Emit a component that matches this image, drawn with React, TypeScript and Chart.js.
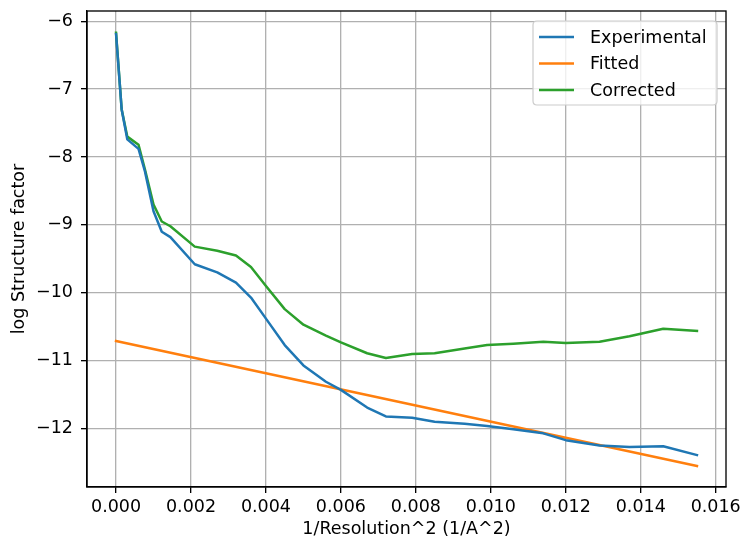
import React, { useEffect, useRef } from "react";
import { Chart, registerables } from "chart.js";

Chart.register(...registerables);

const xValues = [
  0, 0.00015, 0.0003, 0.0006, 0.00077, 0.001, 0.00122, 0.00145, 0.0021, 0.0027,
  0.0032, 0.0036, 0.004, 0.0045, 0.005, 0.0056, 0.006, 0.0067, 0.0072, 0.0079,
  0.0085, 0.0093, 0.0099, 0.0106, 0.0114, 0.012, 0.0129, 0.0137, 0.0146, 0.0155,
];
const experimental = [
  -6.19, -7.3, -7.74, -7.88, -8.21, -8.8, -9.1, -9.18, -9.58, -9.7,
  -9.85, -10.07, -10.38, -10.77, -11.07, -11.31, -11.43, -11.69, -11.82, -11.84,
  -11.9, -11.93, -11.96, -12.01, -12.07, -12.17, -12.25, -12.27, -12.26, -12.39,
];
const corrected = [
  -6.17, -7.3, -7.7, -7.82, -8.18, -8.7, -8.95, -9.02, -9.32, -9.38,
  -9.45, -9.62, -9.9, -10.24, -10.47, -10.63, -10.73, -10.89, -10.96, -10.9,
  -10.89, -10.82, -10.77, -10.75, -10.72, -10.74, -10.72, -10.64, -10.53, -10.56,
];
const fittedX = [0, 0.0155];
const fittedY = [-10.71, -12.55];

const xTicks = [0, 0.002, 0.004, 0.006, 0.008, 0.01, 0.012, 0.014, 0.016];
const yTicks = [-12, -11, -10, -9, -8, -7, -6];

const seriesNames = ["Experimental", "Fitted", "Corrected"];
const seriesColors = ["#1f77b4", "#ff7f0e", "#2ca02c"];

const FONT = "'DejaVu Sans', sans-serif";
const FS = 17.5;

const frameAndLegend = {
  id: "frameAndLegend",
  afterDraw(chart: any) {
    const ctx = chart.ctx;
    const ca = chart.chartArea;
    ctx.save();
    ctx.strokeStyle = "#000";
    ctx.lineWidth = 1.33;
    ctx.strokeRect(ca.left, ca.top, ca.right - ca.left, ca.bottom - ca.top);

    const w = 184;
    const h = 84;
    const bx = ca.right - 9 - w;
    const by = ca.top + 10;
    const r = 4;
    ctx.beginPath();
    ctx.moveTo(bx + r, by);
    ctx.lineTo(bx + w - r, by);
    ctx.quadraticCurveTo(bx + w, by, bx + w, by + r);
    ctx.lineTo(bx + w, by + h - r);
    ctx.quadraticCurveTo(bx + w, by + h, bx + w - r, by + h);
    ctx.lineTo(bx + r, by + h);
    ctx.quadraticCurveTo(bx, by + h, bx, by + h - r);
    ctx.lineTo(bx, by + r);
    ctx.quadraticCurveTo(bx, by, bx + r, by);
    ctx.closePath();
    ctx.fillStyle = "rgba(255,255,255,0.8)";
    ctx.fill();
    ctx.strokeStyle = "#cccccc";
    ctx.lineWidth = 1.2;
    ctx.stroke();

    ctx.font = `${FS}px ${FONT}`;
    ctx.textBaseline = "middle";
    ctx.textAlign = "left";
    seriesNames.forEach((name, i) => {
      const y = by + 16 + i * 26.5;
      ctx.beginPath();
      ctx.strokeStyle = seriesColors[i];
      ctx.lineWidth = 2.5;
      ctx.lineCap = "butt";
      ctx.moveTo(bx + 6, y);
      ctx.lineTo(bx + 41, y);
      ctx.stroke();
      ctx.fillStyle = "#000";
      ctx.fillText(name, bx + 57, y + 1);
    });
    ctx.restore();
  },
};

export default function App() {
  const ref = useRef<HTMLCanvasElement | null>(null);
  useEffect(() => {
    if (!ref.current) return;
    const mk = (xs: number[], ys: number[]) => xs.map((x, i) => ({ x, y: ys[i] }));
    const ds = [
      mk(xValues, experimental),
      mk(fittedX, fittedY),
      mk(xValues, corrected),
    ].map((data, i) => ({
      label: seriesNames[i],
      data,
      borderColor: seriesColors[i],
      backgroundColor: seriesColors[i],
      borderWidth: 2.5,
      pointRadius: 0,
      tension: 0,
      fill: false,
      borderJoinStyle: "round" as const,
      borderCapStyle: "square" as const,
    }));
    const chart = new Chart(ref.current, {
      type: "line",
      data: { datasets: ds },
      plugins: [frameAndLegend],
      options: {
        animation: false,
        responsive: true,
        maintainAspectRatio: false,
        devicePixelRatio: 1,
        layout: { padding: { top: 11, right: 17, bottom: 0, left: 0 } },
        plugins: { legend: { display: false }, tooltip: { enabled: false } },
        scales: {
          x: {
            type: "linear",
            min: -0.000775,
            max: 0.016275,
            afterBuildTicks: (s: any) => {
              s.ticks = xTicks.map((v) => ({ value: v }));
            },
            afterFit: (s: any) => {
              s.height = 56;
              s.paddingLeft = 0;
              s.paddingRight = 0;
              s.paddingTop = 0;
              s.paddingBottom = 0;
            },
            grid: {
              color: "#b0b0b0",
              lineWidth: 1.33,
              tickColor: "#000",
              tickLength: 6,
              tickWidth: 1.33,
            },
            border: { display: true, color: "#000", width: 1.33 },
            ticks: {
              color: "#000",
              font: { family: FONT, size: FS },
              padding: 4,
              maxRotation: 0,
              autoSkip: false,
              callback: (v: any) => Number(v).toFixed(3),
            },
            title: {
              display: true,
              text: "1/Resolution^2 (1/A^2)",
              color: "#000",
              font: { family: FONT, size: FS },
              padding: { top: 0, bottom: 3 },
            },
          },
          y: {
            type: "linear",
            min: -12.86,
            max: -5.85,
            afterBuildTicks: (s: any) => {
              s.ticks = yTicks.map((v) => ({ value: v }));
            },
            afterFit: (s: any) => {
              s.width = 87;
              s.paddingLeft = 0;
              s.paddingRight = 0;
              s.paddingTop = 0;
              s.paddingBottom = 0;
            },
            grid: {
              color: "#b0b0b0",
              lineWidth: 1.33,
              tickColor: "#000",
              tickLength: 6,
              tickWidth: 1.33,
            },
            border: { display: true, color: "#000", width: 1.33 },
            ticks: {
              color: "#000",
              font: { family: FONT, size: FS },
              padding: 8,
              autoSkip: false,
              callback: (v: any) => (Number(v) < 0 ? "\u2212" + Math.abs(Number(v)) : String(v)),
            },
            title: {
              display: true,
              text: "log Structure factor",
              color: "#000",
              font: { family: FONT, size: FS },
              padding: { top: 9, bottom: 0 },
            },
          },
        },
      },
    });
    return () => chart.destroy();
  }, []);
  return (
    <div style={{ position: "fixed", left: 0, top: 0, width: 743, height: 543, background: "#fff" }}>
      <canvas ref={ref} />
    </div>
  );
}
